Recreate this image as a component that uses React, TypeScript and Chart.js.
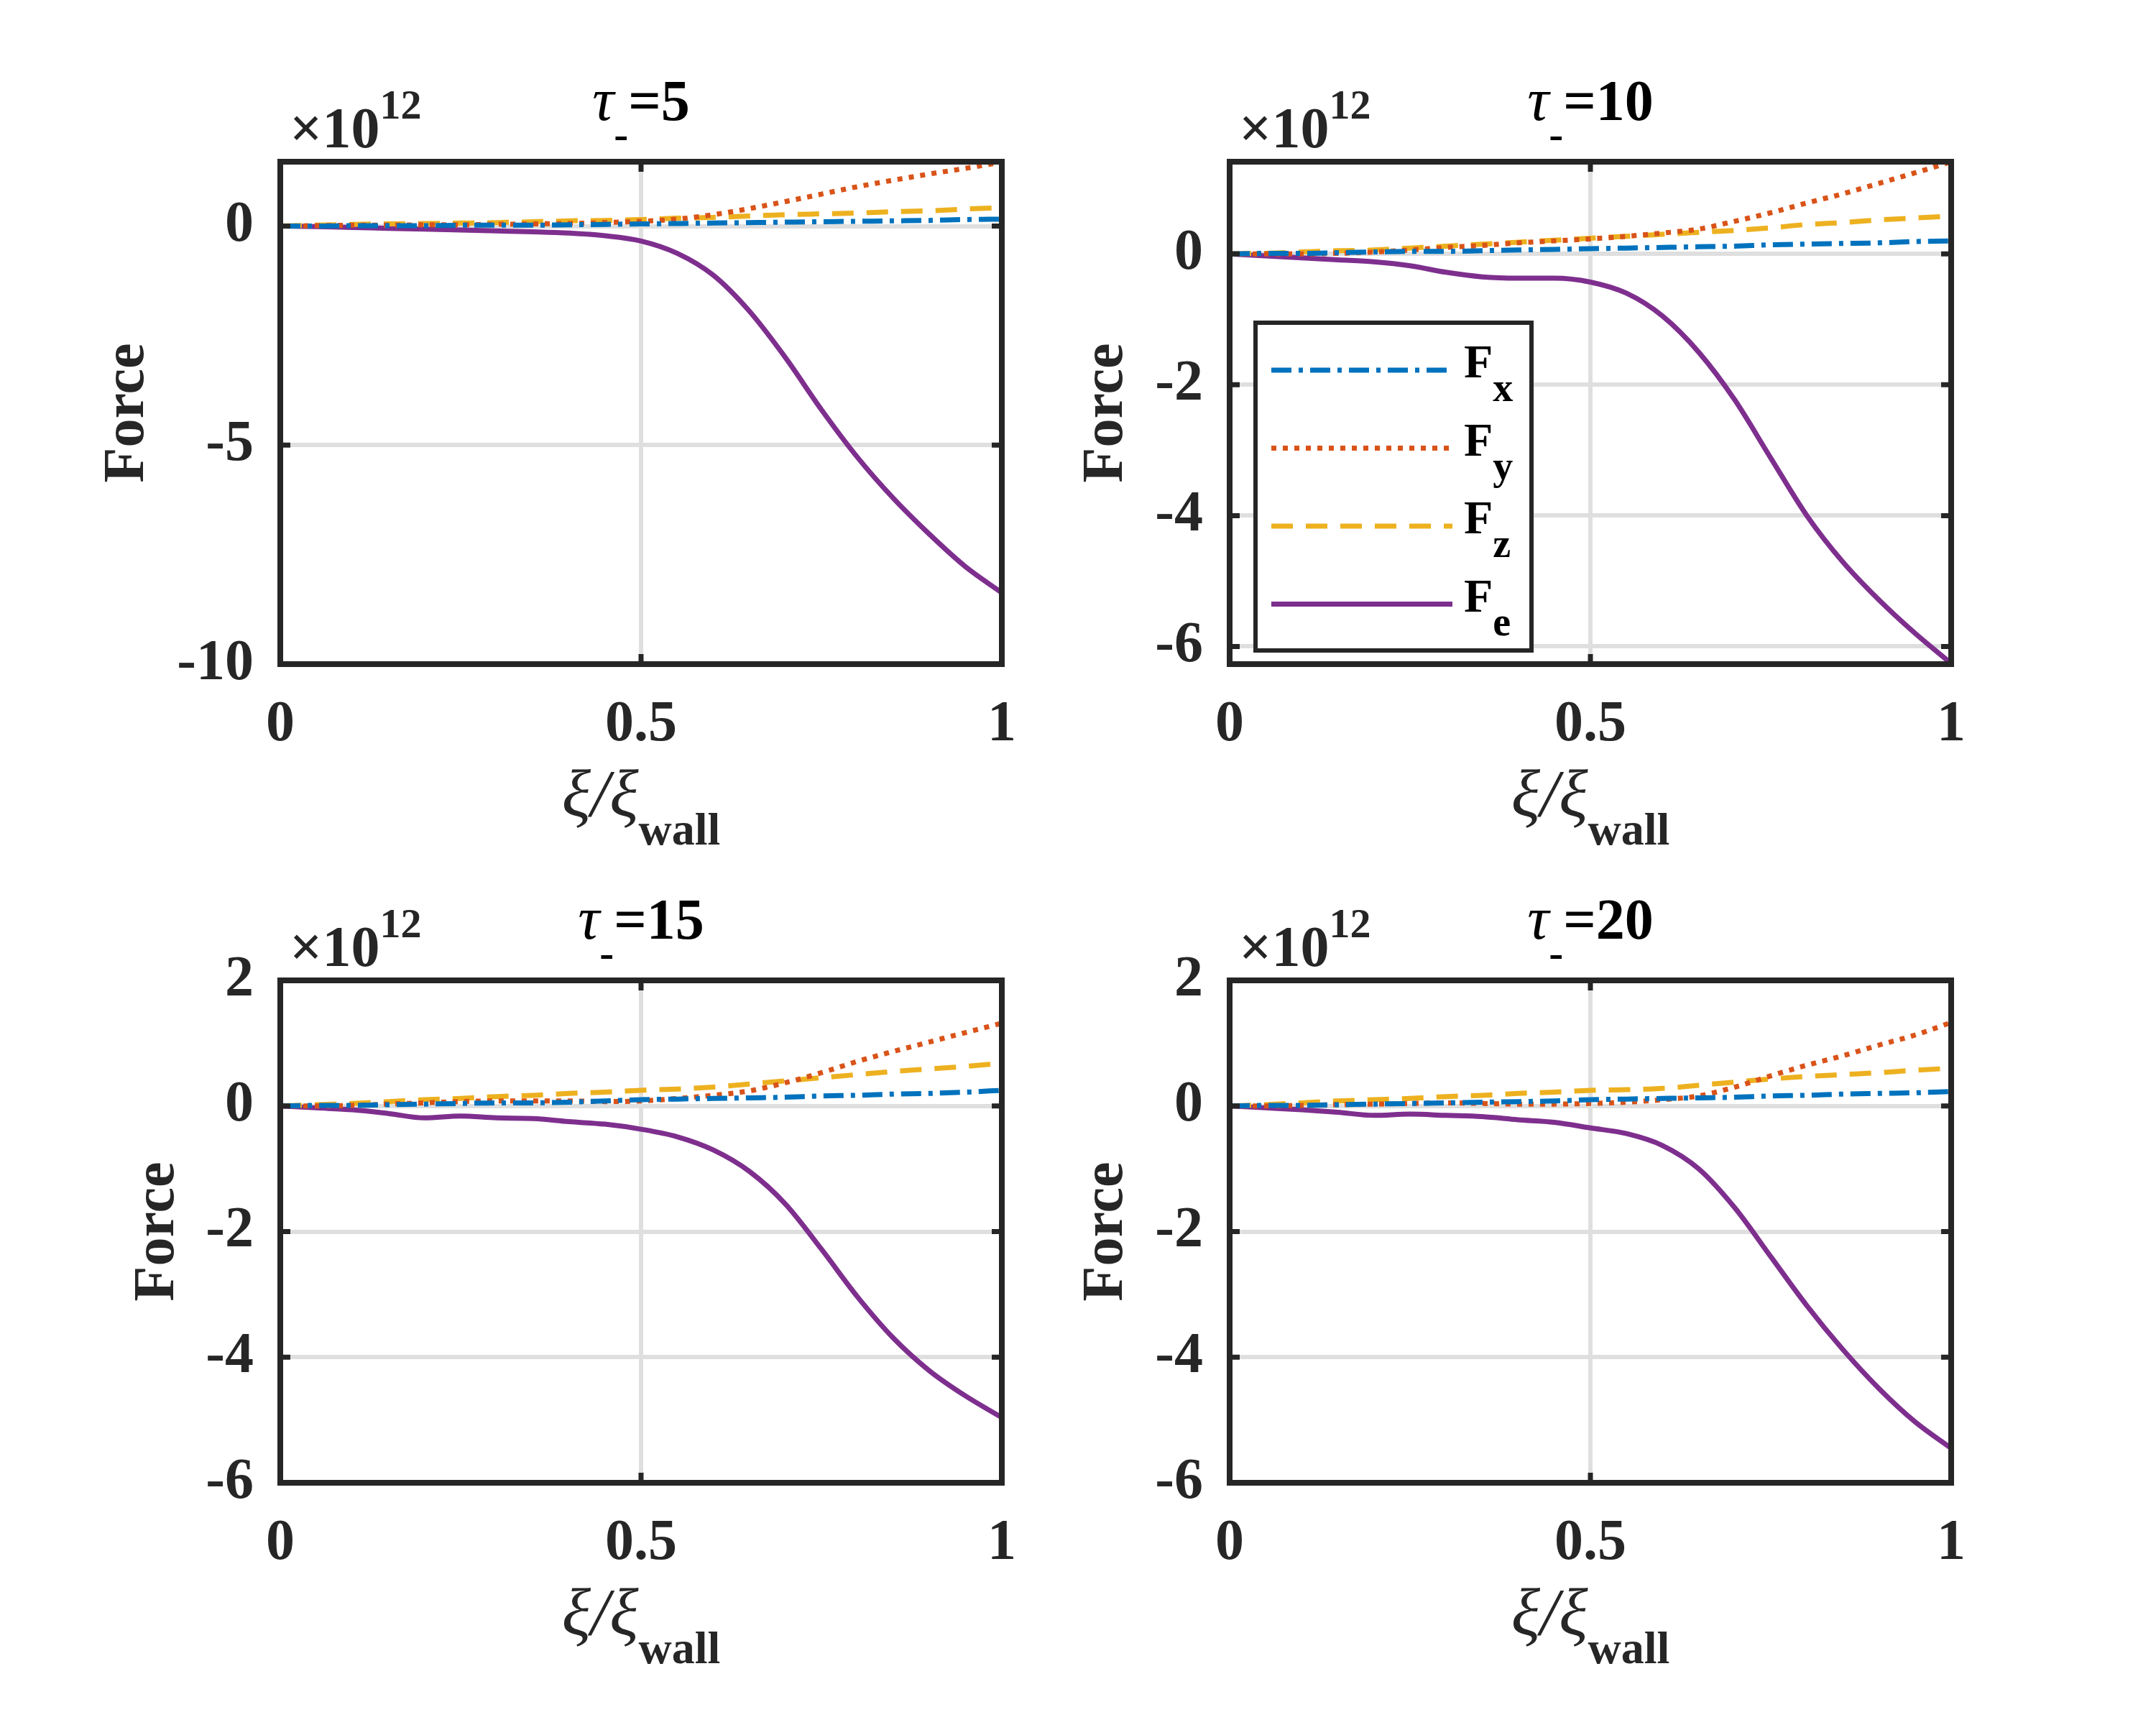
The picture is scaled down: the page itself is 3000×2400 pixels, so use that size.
import { useEffect, useRef } from "react";
import { Chart, registerables } from "chart.js";

Chart.register(...registerables);

const FONT = '"Liberation Serif", "Times New Roman", serif';
const AXIS = "#262626";

// xi / xi_wall
const xi = [0, 0.05, 0.1, 0.15, 0.2, 0.25, 0.3, 0.35, 0.4, 0.45, 0.5, 0.55, 0.6, 0.65, 0.7, 0.75, 0.8, 0.85, 0.9, 0.95, 1];
const xTicks = [0, 0.5, 1];

// tau_- = 5  (x 1e12)
const fx5 = [0, 0, 0.01, 0.01, 0.01, 0.02, 0.02, 0.02, 0.03, 0.04, 0.05, 0.06, 0.07, 0.08, 0.09, 0.1, 0.11, 0.12, 0.13, 0.15, 0.16];
const fy5 = [0, 0.01, 0.02, 0.02, 0.03, 0.03, 0.04, 0.05, 0.06, 0.08, 0.11, 0.16, 0.26, 0.4, 0.56, 0.73, 0.9, 1.05, 1.19, 1.32, 1.46];
const fz5 = [0, 0.02, 0.04, 0.05, 0.06, 0.07, 0.08, 0.1, 0.12, 0.13, 0.15, 0.18, 0.2, 0.23, 0.26, 0.28, 0.3, 0.33, 0.35, 0.39, 0.42];
const fe5 = [0, -0.01, -0.03, -0.05, -0.07, -0.09, -0.11, -0.13, -0.16, -0.22, -0.34, -0.62, -1.12, -1.94, -3.0, -4.19, -5.28, -6.22, -7.04, -7.78, -8.37];

// tau_- = 10
const fx10 = [0, 0.01, 0.01, 0.02, 0.03, 0.04, 0.04, 0.05, 0.06, 0.07, 0.08, 0.09, 0.1, 0.11, 0.12, 0.14, 0.15, 0.16, 0.17, 0.19, 0.2];
const fy10 = [0, 0, 0, 0.01, 0.03, 0.06, 0.1, 0.13, 0.17, 0.2, 0.23, 0.27, 0.32, 0.38, 0.5, 0.63, 0.78, 0.92, 1.08, 1.24, 1.41];
const fz10 = [0, 0.01, 0.03, 0.05, 0.06, 0.09, 0.12, 0.15, 0.18, 0.21, 0.24, 0.27, 0.3, 0.33, 0.36, 0.4, 0.45, 0.48, 0.52, 0.55, 0.58];
const fe10 = [0, -0.03, -0.06, -0.09, -0.12, -0.18, -0.28, -0.35, -0.37, -0.37, -0.43, -0.6, -0.95, -1.5, -2.23, -3.12, -4.0, -4.71, -5.29, -5.8, -6.26];

// tau_- = 15
const fx15 = [0, 0.01, 0.01, 0.02, 0.03, 0.04, 0.05, 0.05, 0.06, 0.08, 0.1, 0.11, 0.12, 0.13, 0.14, 0.16, 0.17, 0.19, 0.2, 0.22, 0.25];
const fy15 = [0, 0, 0.01, 0.03, 0.05, 0.07, 0.08, 0.08, 0.08, 0.07, 0.08, 0.12, 0.17, 0.24, 0.37, 0.53, 0.71, 0.87, 1.02, 1.17, 1.32];
const fz15 = [0, 0.02, 0.04, 0.07, 0.1, 0.12, 0.15, 0.17, 0.2, 0.22, 0.25, 0.27, 0.3, 0.35, 0.4, 0.45, 0.5, 0.55, 0.59, 0.63, 0.68];
const fe15 = [0, -0.03, -0.06, -0.12, -0.19, -0.16, -0.19, -0.2, -0.25, -0.29, -0.37, -0.49, -0.7, -1.04, -1.56, -2.28, -3.04, -3.7, -4.22, -4.62, -4.96];

// tau_- = 20
const fx20 = [0, 0.01, 0.01, 0.02, 0.03, 0.04, 0.05, 0.06, 0.07, 0.08, 0.1, 0.11, 0.12, 0.13, 0.14, 0.16, 0.17, 0.19, 0.2, 0.21, 0.23];
const fy20 = [0, 0, 0.01, 0.02, 0.03, 0.04, 0.05, 0.04, 0.03, 0.03, 0.04, 0.06, 0.1, 0.16, 0.3, 0.48, 0.65, 0.8, 0.97, 1.13, 1.33];
const fz20 = [0, 0.02, 0.05, 0.08, 0.1, 0.12, 0.15, 0.17, 0.2, 0.22, 0.25, 0.26, 0.28, 0.33, 0.38, 0.43, 0.47, 0.5, 0.53, 0.57, 0.6];
const fe20 = [0, -0.03, -0.06, -0.1, -0.15, -0.13, -0.15, -0.17, -0.22, -0.26, -0.35, -0.44, -0.63, -1.0, -1.62, -2.4, -3.18, -3.88, -4.5, -5.03, -5.45];

const subs = ["x", "y", "z", "e"];
const colors = ["#0072BD", "#D95319", "#EDB120", "#7E2F8E"];
const dashes = [[28, 10, 6, 10], [7, 9], [30, 18], []];

type PanelDef = {
  tau: string;
  series: number[][];
  yMin: number;
  yMax: number;
  yTicks: number[];
  legend: boolean;
  col: number;
  row: number;
  ylabelGap: number;
};

const panels: PanelDef[] = [
  { tau: "5", series: [fx5, fy5, fz5, fe5], yMin: -10, yMax: 1.47, yTicks: [-10, -5, 0], legend: false, col: 0, row: 0, ylabelGap: 212 },
  { tau: "10", series: [fx10, fy10, fz10, fe10], yMin: -6.27, yMax: 1.41, yTicks: [-6, -4, -2, 0], legend: true, col: 1, row: 0, ylabelGap: 171 },
  { tau: "15", series: [fx15, fy15, fz15, fe15], yMin: -6, yMax: 2, yTicks: [-6, -4, -2, 0, 2], legend: false, col: 0, row: 1, ylabelGap: 170 },
  { tau: "20", series: [fx20, fy20, fz20, fe20], yMin: -6, yMax: 2, yTicks: [-6, -4, -2, 0, 2], legend: false, col: 1, row: 1, ylabelGap: 171 },
];

type Run = { text: string; font: string; dy?: number };

// draws a row of text pieces (for sub/superscripts), centred or left-aligned
function drawRuns(ctx: CanvasRenderingContext2D, runs: Run[], x: number, y: number, align: "left" | "center") {
  let total = 0;
  const widths = runs.map((r) => {
    ctx.font = r.font;
    const w = ctx.measureText(r.text).width;
    total += w;
    return w;
  });
  let cx = align === "center" ? x - total / 2 : x;
  ctx.textAlign = "left";
  ctx.textBaseline = "alphabetic";
  runs.forEach((r, i) => {
    ctx.font = r.font;
    ctx.fillText(r.text, cx, y + (r.dy || 0));
    cx += widths[i];
  });
}

const decor = (p: PanelDef) => ({
  id: "decor",
  afterDatasetsDraw(chart: any) {
    const { ctx, chartArea: a, scales } = chart;
    ctx.save();
    ctx.strokeStyle = AXIS;
    ctx.lineWidth = 7;
    ctx.beginPath();
    p.yTicks.forEach((v) => {
      const y = scales.y.getPixelForValue(v);
      ctx.moveTo(a.left, y);
      ctx.lineTo(a.left + 14, y);
      ctx.moveTo(a.right, y);
      ctx.lineTo(a.right - 14, y);
    });
    xTicks.forEach((v) => {
      const x = scales.x.getPixelForValue(v);
      ctx.moveTo(x, a.top);
      ctx.lineTo(x, a.top + 14);
      ctx.moveTo(x, a.bottom);
      ctx.lineTo(x, a.bottom - 14);
    });
    ctx.stroke();
    ctx.lineWidth = 8;
    ctx.strokeRect(a.left, a.top, a.right - a.left, a.bottom - a.top);
    ctx.restore();
  },
  afterDraw(chart: any) {
    const { ctx, chartArea: a } = chart;
    const cx = (a.left + a.right) / 2;
    ctx.save();
    // title
    ctx.fillStyle = "#000";
    drawRuns(ctx, [
      { text: "τ", font: `italic 84px ${FONT}` },
      { text: "-", font: `bold 60px ${FONT}`, dy: 39 },
      { text: "=" + p.tau, font: `bold 80px ${FONT}` },
    ], cx, a.top - 58, "center");
    ctx.fillStyle = AXIS;
    // exponent
    drawRuns(ctx, [
      { text: "×10", font: `bold 80px ${FONT}` },
      { text: "12", font: `bold 58px ${FONT}`, dy: -40 },
    ], a.left + 13, a.top - 20, "left");
    // x label
    drawRuns(ctx, [
      { text: "ξ/ξ", font: `italic 94px ${FONT}` },
      { text: "wall", font: `bold 64px ${FONT}`, dy: 40 },
    ], cx, a.bottom + 211, "center");
    // y label
    ctx.translate(a.left - p.ylabelGap, (a.top + a.bottom) / 2);
    ctx.rotate(-Math.PI / 2);
    ctx.font = `bold 80px ${FONT}`;
    ctx.textAlign = "center";
    ctx.textBaseline = "middle";
    ctx.fillText("Force", 0, 0);
    ctx.restore();

    if (p.legend) {
      ctx.save();
      const lx = a.left + 36;
      const ly = a.top + 224;
      ctx.fillStyle = "#fff";
      ctx.fillRect(lx, ly, 384, 456);
      ctx.strokeStyle = AXIS;
      ctx.lineWidth = 6;
      ctx.strokeRect(lx, ly, 384, 456);
      chart.data.datasets.forEach((ds: any, i: number) => {
        const ry = a.top + 290 + i * 108.5;
        ctx.strokeStyle = ds.borderColor;
        ctx.lineWidth = ds.borderWidth;
        ctx.setLineDash(ds.borderDash);
        ctx.beginPath();
        ctx.moveTo(a.left + 58, ry);
        ctx.lineTo(a.left + 310, ry);
        ctx.stroke();
        ctx.setLineDash([]);
        ctx.fillStyle = "#000";
        drawRuns(ctx, [
          { text: "F", font: `bold 66px ${FONT}` },
          { text: subs[i], font: `bold 56px ${FONT}`, dy: 33 },
        ], a.left + 326, ry + 10, "left");
      });
      ctx.restore();
    }
  },
});

function Panel({ p }: { p: PanelDef }) {
  const ref = useRef<HTMLCanvasElement>(null);

  useEffect(() => {
    if (!ref.current) return;
    const cLeft = p.col * 1500;
    const cTop = p.row * 1200;
    const left = p.col ? 1711 : 390;
    const top = p.row ? 1364 : 225;
    const right = left + 1004;
    const bottom = top + 699;

    const chart = new Chart(ref.current, {
      type: "line",
      data: {
        datasets: p.series.map((arr, i) => ({
          label: "F" + subs[i],
          data: xi.map((x, k) => ({ x, y: arr[k] })),
          borderColor: colors[i],
          borderDash: dashes[i],
          borderWidth: 7,
          borderCapStyle: "butt",
          pointRadius: 0,
          cubicInterpolationMode: "monotone",
          fill: false,
        })),
      },
      options: {
        responsive: false,
        animation: false,
        devicePixelRatio: 1,
        layout: { padding: { left: 0, top: top - cTop, right: cLeft + 1500 - right, bottom: 0 } },
        plugins: { legend: { display: false }, tooltip: { enabled: false } },
        scales: {
          x: {
            type: "linear",
            min: 0,
            max: 1,
            afterFit: (s: any) => {
              s.height = cTop + 1200 - bottom;
            },
            afterBuildTicks: (s: any) => {
              s.ticks = xTicks.map((v) => ({ value: v }));
            },
            grid: { color: "#dfdfdf", lineWidth: 6, drawTicks: false },
            border: { display: false },
            ticks: {
              autoSkip: false,
              maxRotation: 0,
              padding: 37,
              color: AXIS,
              font: { family: FONT, size: 80, weight: "bold" },
              callback: (v: any) => String(v),
            },
          },
          y: {
            type: "linear",
            min: p.yMin,
            max: p.yMax,
            afterFit: (s: any) => {
              s.width = left - cLeft;
            },
            afterBuildTicks: (s: any) => {
              s.ticks = p.yTicks.map((v) => ({ value: v }));
            },
            grid: { color: "#dfdfdf", lineWidth: 6, drawTicks: false },
            border: { display: false },
            ticks: {
              autoSkip: false,
              padding: 37,
              color: AXIS,
              font: { family: FONT, size: 80, weight: "bold" },
              callback: (v: any) => String(v),
            },
          },
        },
      },
      plugins: [decor(p)],
    } as any);

    return () => {
      chart.destroy();
    };
  }, [p]);

  return (
    <canvas
      ref={ref}
      width={1500}
      height={1200}
      style={{ position: "absolute", left: p.col * 1500, top: p.row * 1200, width: 1500, height: 1200 }}
    />
  );
}

export default function App() {
  useEffect(() => {
    document.body.style.margin = "0";
  }, []);

  return (
    <div style={{ position: "relative", width: 3000, height: 2400, background: "#fff" }}>
      {panels.map((p) => (
        <Panel key={p.tau} p={p} />
      ))}
    </div>
  );
}
